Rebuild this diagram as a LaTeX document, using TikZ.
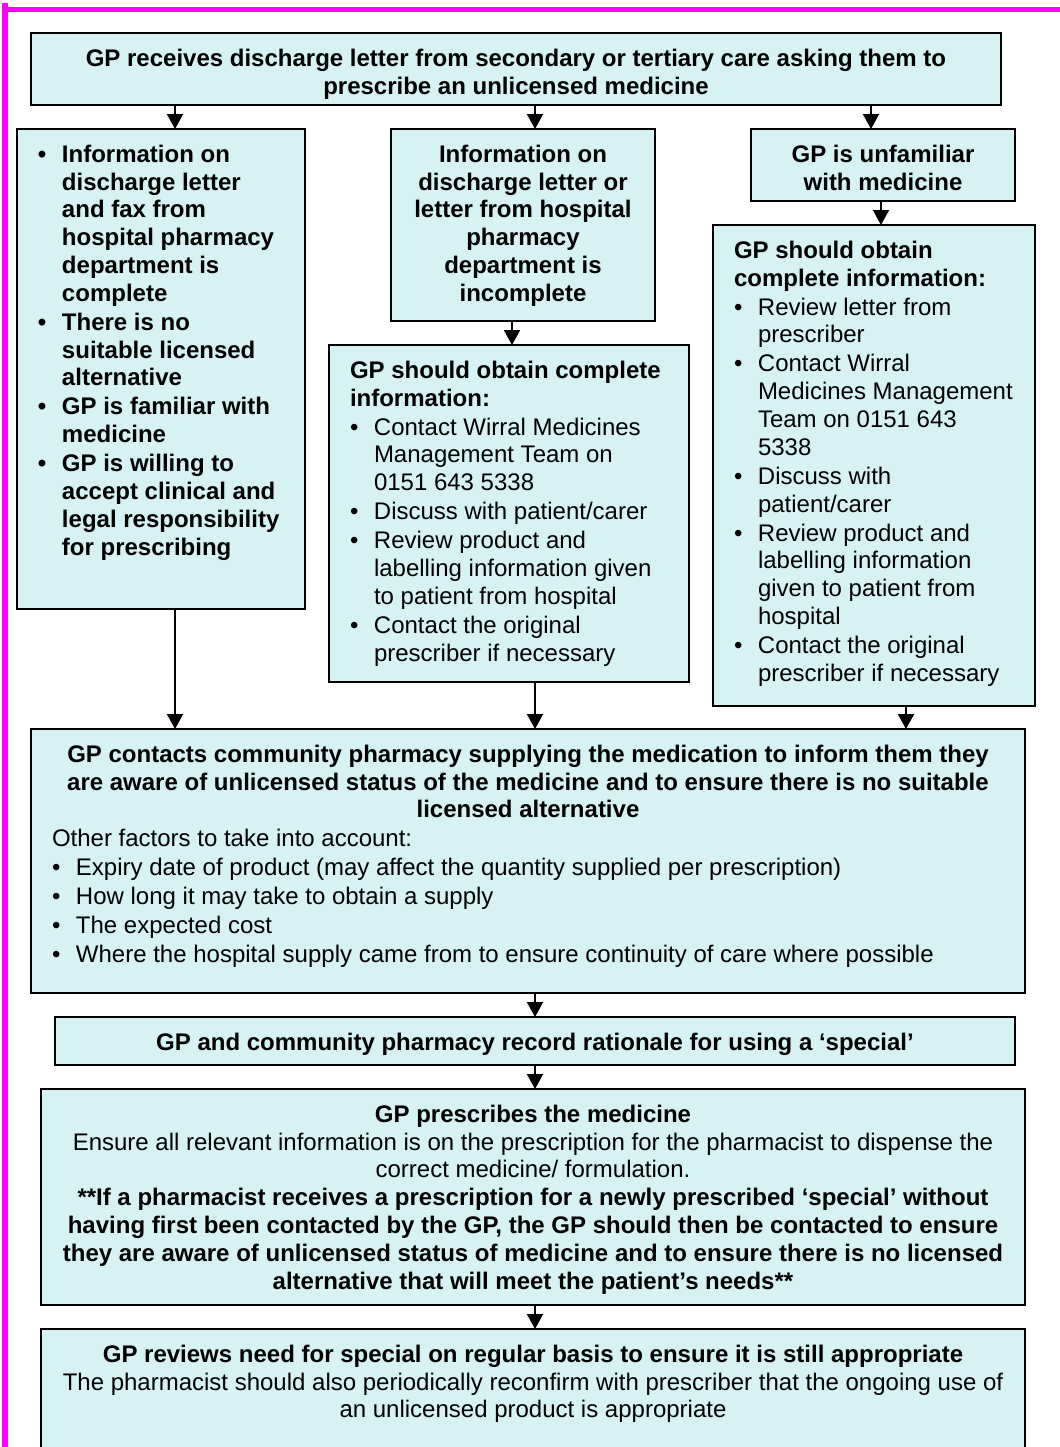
\documentclass[tikz,border=0pt]{standalone}
\usepackage{fontspec}
\setmainfont{Liberation Sans}
\usepackage{tikz}
\usetikzlibrary{arrows.meta,calc,positioning}

\definecolor{boxcyan}{RGB}{214,242,243}
\definecolor{framepink}{RGB}{255,0,255}

\newcommand{\panel}[3]{\parbox[c][#2][t]{#1}{\fontsize{12pt}{13.9pt}\selectfont\parskip=0.6pt\raggedright\vspace*{6.35pt}#3}}
\newcommand{\bul}{\par\noindent\hangindent=12pt\hangafter=1\makebox[12pt][l]{\textbullet}\strut\ignorespaces}

\begin{document}
\begin{tikzpicture}
	[x=0.5pt,y=-0.5pt,
	flowbox/.style={draw=black,line width=1pt,fill=boxcyan,inner xsep=10.5pt,inner ysep=0pt,outer sep=0pt,anchor=north west},
	centred/.style={inner xsep=3pt},
	flow/.style={-{Triangle[width=8pt,length=7.5pt]},line width=1pt}]

	\useasboundingbox (0,0) rectangle (1060,1447);

	\draw[framepink, line width=2.6pt] (5,3) -- (5,1460);
	\draw[framepink, line width=2.2pt] (3,9.5) -- (1065,9.5);

	\node[flowbox,centred] (receive) at (31,33) {\panel{479pt}{36pt}{\centering\bfseries\strut GP receives discharge letter from secondary or tertiary care asking them to\\prescribe an unlicensed medicine}};

	\node[flowbox] (known) at (17,129) {\panel{123pt}{240pt}{\bfseries
		\bul Information on\newline discharge letter\newline and fax from\newline hospital pharmacy\newline department is\newline complete
		\bul There is no\newline suitable licensed\newline alternative
		\bul GP is familiar with\newline medicine
		\bul GP is willing to\newline accept clinical and\newline legal responsibility\newline for prescribing}};

	\node[flowbox,centred] (incomplete) at (391,129) {\panel{126pt}{96pt}{\centering\bfseries\strut Information on\\discharge letter or\\letter from hospital\\pharmacy\\department is\\incomplete}};

	\node[flowbox,centred] (unfamiliar) at (751,129) {\panel{126pt}{36pt}{\centering\bfseries\strut GP is unfamiliar\\with medicine}};

	\node[flowbox] (obtainmid) at (329,345) {\panel{159pt}{168.5pt}{{\bfseries\strut GP should obtain complete\\information:\par}
		\bul Contact Wirral Medicines\newline Management Team on\newline 0151 643 5338
		\bul Discuss with patient/carer
		\bul Review product and\newline labelling information given\newline to patient from hospital
		\bul Contact the original\newline prescriber if necessary}};

	\node[flowbox] (obtainright) at (713,225) {\panel{140pt}{240.5pt}{{\bfseries\strut GP should obtain\\complete information:\par}
		\bul Review letter from\newline prescriber
		\bul Contact Wirral\newline Medicines Management\newline Team on 0151 643\newline 5338
		\bul Discuss with\newline patient/carer
		\bul Review product and\newline labelling information\newline given to patient from\newline hospital
		\bul Contact the original\newline prescriber if necessary}};

	\node[flowbox] (contacts) at (31,729) {\panel{476pt}{132pt}{{\centering\bfseries\strut GP contacts community pharmacy supplying the medication to inform them they\\are aware of unlicensed status of the medicine and to ensure there is no suitable\\licensed alternative\par}
		Other factors to take into account:
		\bul Expiry date of product (may affect the quantity supplied per prescription)
		\bul How long it may take to obtain a supply
		\bul The expected cost
		\bul Where the hospital supply came from to ensure continuity of care where possible}};

	\node[flowbox,centred] (record) at (55,1017) {\panel{474pt}{24pt}{\centering\bfseries\strut GP and community pharmacy record rationale for using a ‘special’}};

	\node[flowbox,centred] (prescribes) at (41,1089) {\panel{486pt}{108pt}{\centering\strut{\bfseries GP prescribes the medicine}\\Ensure all relevant information is on the prescription for the pharmacist to dispense the\\correct medicine/ formulation.\\{\bfseries **If a pharmacist receives a prescription for a newly prescribed ‘special’ without\\having first been contacted by the GP, the GP should then be contacted to ensure\\they are aware of unlicensed status of medicine and to ensure there is no licensed\\alternative that will meet the patient’s needs**}}};

	\node[flowbox,centred] (reviews) at (41,1329) {\panel{486pt}{70pt}{\centering\strut{\bfseries GP reviews need for special on regular basis to ensure it is still appropriate}\\The pharmacist should also periodically reconfirm with prescriber that the ongoing use of\\an unlicensed product is appropriate}};

	\draw[flow] ([xshift=7pt]known.north |- receive.south) -- ([xshift=7pt]known.north);
	\draw[flow] ([xshift=6pt]incomplete.north |- receive.south) -- ([xshift=6pt]incomplete.north);
	\draw[flow] ([xshift=-6pt]unfamiliar.north |- receive.south) -- ([xshift=-6pt]unfamiliar.north);
	\draw[flow] ([xshift=3.5pt]obtainright.north |- unfamiliar.south) -- ([xshift=3.5pt]obtainright.north);
	\draw[flow] ([xshift=1.5pt]obtainmid.north |- incomplete.south) -- ([xshift=1.5pt]obtainmid.north);
	\draw[flow] ([xshift=7pt]known.south) -- ([xshift=7pt]known.south |- contacts.north);
	\draw[flow] ([xshift=13pt]obtainmid.south) -- ([xshift=13pt]obtainmid.south |- contacts.north);
	\draw[flow] ([xshift=16pt]obtainright.south) -- ([xshift=16pt]obtainright.south |- contacts.north);
	\draw[flow] (record.north |- contacts.south) -- (record.north);
	\draw[flow] (record.south) -- (record.south |- prescribes.north);
	\draw[flow] ([xshift=1pt]prescribes.south) -- ([xshift=1pt]prescribes.south |- reviews.north);
\end{tikzpicture}
\end{document}
